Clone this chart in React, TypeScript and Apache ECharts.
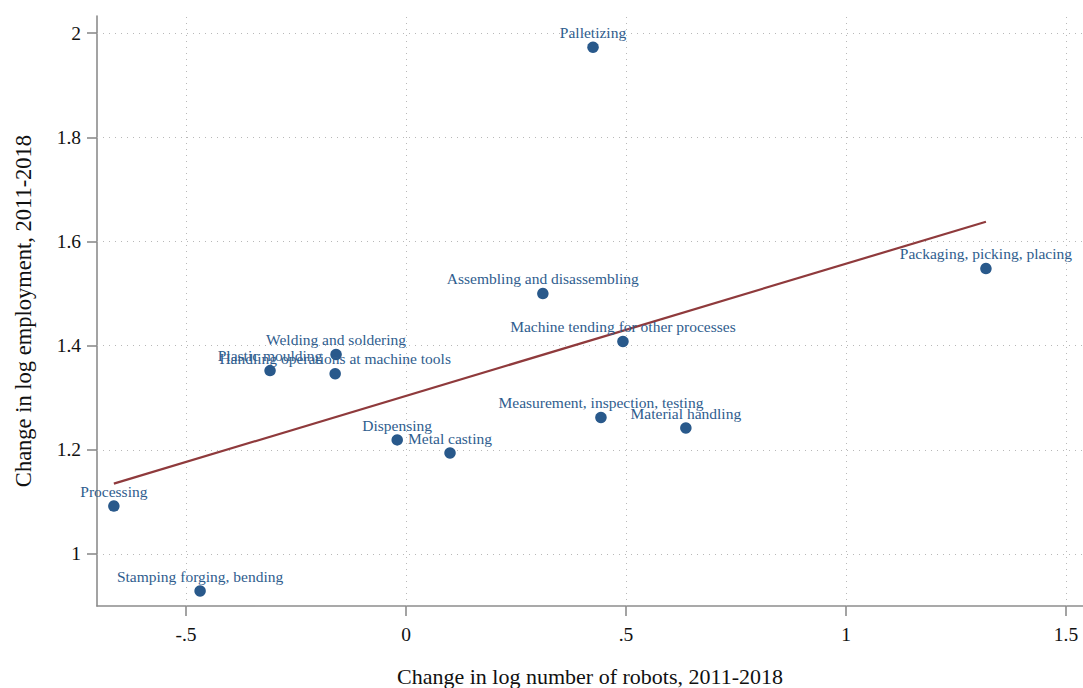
import React, { useEffect, useRef } from "react";
import * as echarts from "echarts";

const categories = [
  "Palletizing",
  "Packaging, picking, placing",
  "Assembling and disassembling",
  "Machine tending for other processes",
  "Welding and soldering",
  "Plastic moulding",
  "Handling operations at machine tools",
  "Measurement, inspection, testing",
  "Material handling",
  "Dispensing",
  "Metal casting",
  "Processing",
  "Stamping forging, bending",
];
const robotsChange = [0.425, 1.318, 0.311, 0.493, -0.159, -0.309, -0.161, 0.443, 0.636, -0.02, 0.1, -0.664, -0.468];
const employmentChange = [1.973, 1.548, 1.5, 1.408, 1.383, 1.352, 1.346, 1.262, 1.242, 1.219, 1.194, 1.092, 0.929];
const fitX = [-0.664, 1.318];
const fitY = [1.135, 1.638];
const xTicks = [-0.5, 0, 0.5, 1, 1.5];
const xTickLabels = ["-.5", "0", ".5", "1", "1.5"];
const yTicks = [1, 1.2, 1.4, 1.6, 1.8, 2];
const yTickLabels = ["1", "1.2", "1.4", "1.6", "1.8", "2"];

const FONT = '"Liberation Serif", "Times New Roman", serif';

export default function App() {
  const ref = useRef<HTMLDivElement>(null);
  useEffect(() => {
    if (!ref.current) return;
    const chart = echarts.init(ref.current, null, { renderer: "svg" });
    const points = categories.map((c, i) => ({ name: c, value: [robotsChange[i], employmentChange[i]] }));
    const fit = fitX.map((x, i) => [x, fitY[i]]);
    const labelOf = (vals: number[], labels: string[]) => (v: number) => {
      const idx = vals.findIndex((t) => Math.abs(t - v) < 1e-6);
      return idx >= 0 ? labels[idx] : "";
    };
    const gridLine = { type: [1, 5] as any, color: "#b8b8b8", width: 1 };
    chart.setOption({
      animation: false,
      backgroundColor: "#ffffff",
      grid: { left: 97, right: 0, top: 16, bottom: 82, outerBoundsMode: "none", containLabel: false },
      xAxis: {
        type: "value",
        min: -0.7023,
        max: 1.5386,
        name: "Change in log number of robots, 2011-2018",
        nameLocation: "middle",
        nameGap: 59,
        nameTextStyle: { fontFamily: FONT, fontSize: 22, color: "#111" },
        axisLine: { show: true, onZero: false, lineStyle: { color: "#8c8c8c", width: 1.6 } },
        axisTick: { show: true, length: 10, customValues: xTicks, lineStyle: { color: "#8c8c8c", width: 1.6 } },
        axisLabel: {
          customValues: xTicks,
          formatter: labelOf(xTicks, xTickLabels),
          margin: 18,
          fontFamily: FONT,
          fontSize: 19.5,
          color: "#111",
        },
        splitLine: { show: false },
      },
      yAxis: {
        type: "value",
        min: 0.9,
        max: 2.033,
        name: "Change in log employment, 2011-2018",
        nameLocation: "middle",
        nameGap: 62,
        nameTextStyle: { fontFamily: FONT, fontSize: 22.5, color: "#111" },
        axisLine: { show: true, onZero: false, lineStyle: { color: "#8c8c8c", width: 1.6 } },
        axisTick: { show: true, length: 10, customValues: yTicks, lineStyle: { color: "#8c8c8c", width: 1.6 } },
        axisLabel: {
          customValues: yTicks,
          formatter: labelOf(yTicks, yTickLabels),
          margin: 16,
          fontFamily: FONT,
          fontSize: 19.5,
          color: "#111",
        },
        splitLine: { show: false },
      },
      series: [
        {
          type: "line",
          data: fit,
          symbol: "none",
          lineStyle: { color: "#8f3a3c", width: 2.2 },
          silent: true,
          z: 3,
          markLine: {
            silent: true,
            symbol: "none",
            label: { show: false },
            lineStyle: gridLine,
            z: 1,
            data: [
              ...yTicks.map((v) => ({ yAxis: v, lineStyle: gridLine })),
              ...xTicks.map((v) => ({ xAxis: v, lineStyle: gridLine })),
            ],
          },
        },
        {
          type: "scatter",
          data: points,
          symbolSize: 11.5,
          itemStyle: { color: "#29598b", opacity: 1 },
          z: 4,
          label: {
            show: true,
            position: "top",
            distance: 1,
            formatter: (p: any) => p.name,
            fontFamily: FONT,
            fontSize: 15.5,
            color: "#2f5d8e",
          },
        },
      ],
    });
    return () => chart.dispose();
  }, []);
  return <div ref={ref} style={{ position: "absolute", left: 0, top: 0, width: 1083, height: 688 }} />;
}
